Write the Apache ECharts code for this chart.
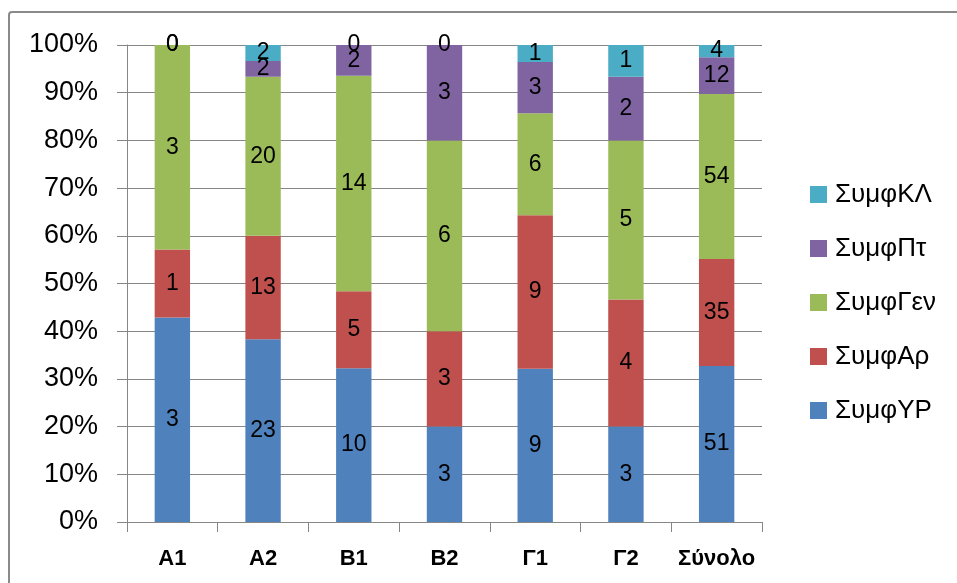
<!DOCTYPE html>
<html>
<head>
<meta charset="utf-8">
<script src="https://cdn.jsdelivr.net/npm/echarts@6/dist/echarts.min.js"></script>
<style>
  html, body { margin: 0; padding: 0; background: #fff; }
  #chart { width: 957px; height: 583px; }
</style>
</head>
<body>
<div id="chart"></div>
<script>
// Κατηγορίες και τιμές (απόλυτοι αριθμοί, το 100% υπολογίζεται από αυτούς)
const categories = ['A1', 'A2', 'B1', 'B2', 'Γ1', 'Γ2', 'Σύνολο'];
const seriesNames = ['ΣυμφΥΡ', 'ΣυμφΑρ', 'ΣυμφΓεν', 'ΣυμφΠτ', 'ΣυμφΚΛ'];
const seriesColors = ['#4F81BD', '#C0504D', '#9BBB59', '#8064A2', '#4BACC6'];
const valYR  = [3, 23, 10, 3, 9, 3, 51];
const valAr  = [1, 13, 5, 3, 9, 4, 35];
const valGen = [3, 20, 14, 6, 6, 5, 54];
const valPt  = [0, 2, 2, 3, 3, 2, 12];
const valKL  = [0, 2, 0, 0, 1, 1, 4];
const yTicks = [0, 10, 20, 30, 40, 50, 60, 70, 80, 90, 100];

const allValues = [valYR, valAr, valGen, valPt, valKL];
const totals = categories.map((c, i) => allValues.reduce((s, arr) => s + arr[i], 0));

const chart = echarts.init(document.getElementById('chart'));
const font = 'Liberation Sans, Arial, sans-serif';

const series = allValues.map((arr, k) => ({
  name: seriesNames[k],
  type: 'bar',
  stack: 'total',
  barWidth: '39%',
  itemStyle: { color: seriesColors[k] },
  label: {
    show: true,
    position: 'inside',
    color: '#000',
    fontSize: 23,
    fontFamily: font,
    formatter: p => p.data.raw
  },
  data: arr.map((v, i) => ({ value: v / totals[i] * 100, raw: v }))
}));

chart.setOption({
  backgroundColor: '#fff',
  animation: false,
  graphic: [{
    type: 'rect',
    shape: { x: 9, y: 12, width: 1000, height: 1000, r: 3 },
    style: { fill: 'none', stroke: '#8a8a8a', lineWidth: 2 },
    silent: true
  }],
  grid: { left: 127, right: 195, top: 45, bottom: 61 },
  legend: {
    orient: 'vertical',
    left: 805,
    top: 176,
    itemWidth: 17,
    itemHeight: 17,
    itemGap: 27,
    icon: 'rect',
    data: seriesNames.slice().reverse(),
    textStyle: { fontSize: 26, fontFamily: font, color: '#000', lineHeight: 27, padding: [0, 0, 0, 3] }
  },
  xAxis: {
    type: 'category',
    data: categories,
    axisLine: { lineStyle: { color: '#868686', width: 1 } },
    axisTick: { show: true, length: 10, lineStyle: { color: '#868686' } },
    axisLabel: { interval: 0, color: '#000', fontSize: 22, fontWeight: 'bold', fontFamily: font, margin: 26 },
    splitLine: { show: false }
  },
  yAxis: {
    type: 'value',
    min: yTicks[0],
    max: yTicks[yTicks.length - 1],
    interval: 10,
    axisLine: { show: true, lineStyle: { color: '#868686', width: 1 } },
    axisTick: { show: true, length: 10, lineStyle: { color: '#868686' } },
    axisLabel: { color: '#000', fontSize: 27, fontFamily: font, margin: 29, formatter: '{value}%' },
    splitLine: { show: true, lineStyle: { color: '#868686', width: 1 } }
  },
  series: series
});
</script>
</body>
</html>
